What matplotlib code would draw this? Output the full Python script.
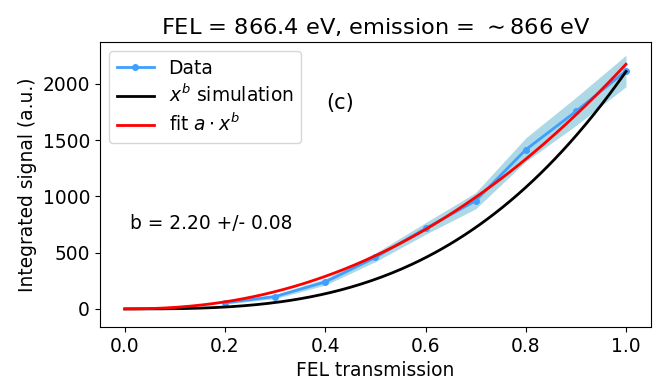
import numpy as np
import matplotlib
matplotlib.use("Agg")
import matplotlib.pyplot as plt

# Data
transmission = [0.2, 0.3, 0.4, 0.5, 0.6, 0.7, 0.8, 0.9, 1.0]
signal = [55, 110, 240, 458, 715, 962, 1415, 1755, 2115]
signal_err = [12, 18, 28, 38, 52, 72, 105, 125, 140]

b_sim = 3.0
sim_scale = 2110
fit_a = 2175
fit_b = 2.20
fit_b_err = 0.08

x_curve = np.linspace(0, 1, 200)

fs = 13.4
fig = plt.figure(figsize=(6.65, 3.92), dpi=100)
ax = fig.add_axes([0.150, 0.166, 0.829, 0.727])

t = np.array(transmission)
s = np.array(signal)
e = np.array(signal_err)
ax.fill_between(t, s - e, s + e, color="lightblue", linewidth=0)
ax.plot(t, s, "-o", color="#3f9fff", markersize=4, linewidth=2, label="Data")
ax.plot(x_curve, sim_scale * x_curve ** b_sim, color="black", linewidth=2,
        label=r"$x^b$ simulation")
ax.plot(x_curve, fit_a * x_curve ** fit_b, color="red", linewidth=2,
        label=r"fit $a \cdot x^b$")

ax.set_xlim(-0.05, 1.05)
ax.set_ylim(-160, 2373)
ax.set_yticks([0, 500, 1000, 1500, 2000])
ax.set_xticks([0.0, 0.2, 0.4, 0.6, 0.8, 1.0])
ax.tick_params(labelsize=fs)
ax.set_xlabel("FEL transmission", fontsize=fs)
ax.set_ylabel("Integrated signal (a.u.)", fontsize=fs)
ax.set_title(r"FEL = 866.4 eV, emission = $\sim$866 eV", fontsize=16.2)
ax.text(0.43, 1830, "(c)", fontsize=15, ha="center", va="center")
ax.text(0.01, 755, f"b = {fit_b:.2f} +/- {fit_b_err:.2f}", fontsize=fs,
        ha="left", va="center")
ax.legend(loc="upper left", fontsize=fs, borderaxespad=0.5,
          labelspacing=0.35, borderpad=0.4)

fig.savefig("out.png", dpi=100)
